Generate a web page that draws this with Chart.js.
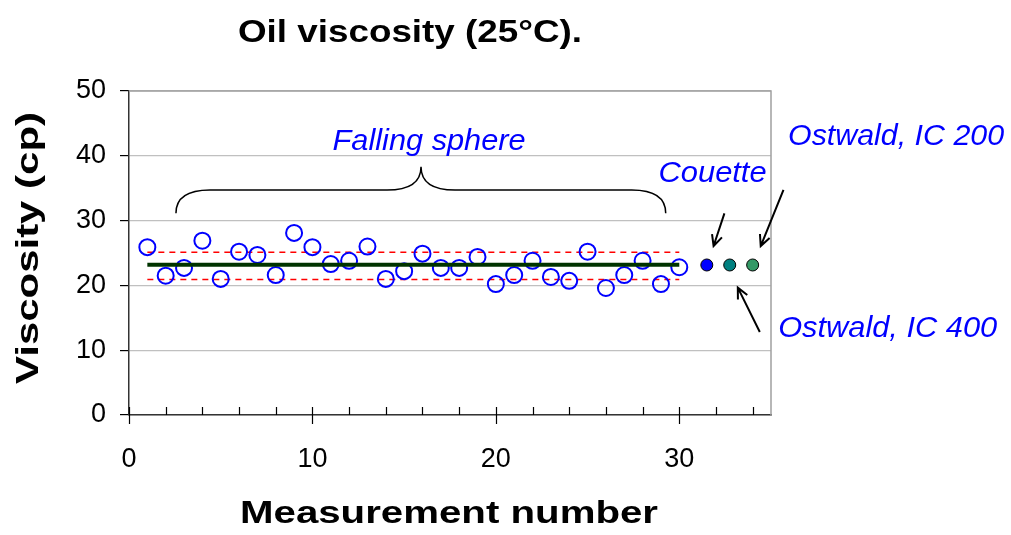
<!DOCTYPE html>
<html>
<head>
<meta charset="utf-8">
<title>Oil viscosity</title>
<script src="https://cdn.jsdelivr.net/npm/chart.js@4.4.1/dist/chart.umd.min.js"></script>
<style>
  body { margin: 0; background: #ffffff; }
  #chartBox { width: 1011px; height: 535px; }
</style>
</head>
<body>
<div id="chartBox"><canvas id="viscosityChart" width="1011" height="535"></canvas></div>
<script>
// ============================================
// Data
// ============================================
const measurementNo = [
  1, 2, 3, 4, 5, 6, 7, 8, 9, 10, 11, 12, 13, 14, 15,
  16, 17, 18, 19, 20, 21, 22, 23, 24, 25, 26, 27, 28, 29, 30,
];
const fallingSphere = [
  25.9, 21.5, 22.7, 26.9, 21.0, 25.2, 24.7, 21.6, 28.1, 25.9,
  23.3, 23.8, 26.0, 21.0, 22.2, 24.9, 22.7, 22.7, 24.4, 20.2,
  21.6, 23.8, 21.3, 20.7, 25.2, 19.6, 21.6, 23.8, 20.2, 22.8,
];
const meanViscosity = 23.2;
const bandUpper = 25.1;
const bandLower = 20.9;

const otherMethods = ["Couette", "Ostwald, IC 400", "Ostwald, IC 200"];
const otherX = [31.5, 32.75, 34];
const otherViscosity = [23.15, 23.15, 23.15];

const xMajorTicks = [0, 10, 20, 30];
const xMinorTicks = [2, 4, 6, 8, 12, 14, 16, 18, 22, 24, 26, 28, 32, 34];
const yTicks = [0, 10, 20, 30, 40, 50];

// ============================================
// Layout / style (pixels, data units for annotations)
// ============================================
const FONT = "'Liberation Sans', Arial, Helvetica, sans-serif";
const BLUE = "#0000ff";
const otherColors = ["#0000ff", "#008080", "#339966"];

const labels = [
  { text: "Falling sphere", x: 16.36, y: 40.9, align: "center", width: 193 },
  { text: "Couette", x: 28.87, y: 35.96, align: "left", width: 108 },
  { text: "Ostwald, IC 200", x: 35.93, y: 41.67, align: "left", width: 216 },
  { text: "Ostwald, IC 400", x: 35.39, y: 12.04, align: "left", width: 219 },
];
const arrows = [
  { from: [32.46, 31.11], to: [31.87, 26.08] },
  { from: [35.68, 34.75], to: [34.44, 26.08] },
  { from: [34.39, 12.81], to: [33.19, 19.66] },
];
const brace = { left: 2.56, right: 29.26, tip: 15.92, yEnd: 31.13, yMid: 34.72, yTip: 38.32 };

// text scaled horizontally to the width it has in the figure
function drawText(ctx, text, x, y, font, color, width, align) {
  ctx.save();
  ctx.font = font;
  ctx.fillStyle = color;
  ctx.textBaseline = "alphabetic";
  ctx.textAlign = "left";
  const natural = ctx.measureText(text).width;
  const sx = width ? width / natural : 1;
  const left = align === "center" ? x - (natural * sx) / 2 : x;
  ctx.translate(left, y);
  ctx.scale(sx, 1);
  ctx.fillText(text, 0, 0);
  ctx.restore();
}

function drawArrow(ctx, x1, y1, x2, y2) {
  const ang = Math.atan2(y2 - y1, x2 - x1);
  const head = 12;
  ctx.beginPath();
  ctx.moveTo(x1, y1);
  ctx.lineTo(x2, y2);
  ctx.moveTo(x2 - head * Math.cos(ang - 0.45), y2 - head * Math.sin(ang - 0.45));
  ctx.lineTo(x2, y2);
  ctx.lineTo(x2 - head * Math.cos(ang + 0.45), y2 - head * Math.sin(ang + 0.45));
  ctx.stroke();
}

const decorations = {
  id: "decorations",
  afterDatasetsDraw(chart) {
    const { ctx, chartArea } = chart;
    const xs = chart.scales.x;
    const ys = chart.scales.y;

    // plot frame: top and right in grey
    ctx.save();
    ctx.strokeStyle = "#a0a0a0";
    ctx.lineWidth = 1.5;
    ctx.beginPath();
    ctx.moveTo(chartArea.left, chartArea.top);
    ctx.lineTo(chartArea.right, chartArea.top);
    ctx.lineTo(chartArea.right, chartArea.bottom);
    ctx.stroke();

    // x axis ticks: majors cross the axis, minors point inside
    ctx.strokeStyle = "#000000";
    ctx.lineWidth = 1.2;
    ctx.beginPath();
    xMajorTicks.forEach((v) => {
      const px = Math.round(xs.getPixelForValue(v)) + 0.5;
      ctx.moveTo(px, chartArea.bottom - 8);
      ctx.lineTo(px, chartArea.bottom + 9);
    });
    xMinorTicks.forEach((v) => {
      const px = Math.round(xs.getPixelForValue(v)) + 0.5;
      ctx.moveTo(px, chartArea.bottom - 8);
      ctx.lineTo(px, chartArea.bottom);
    });
    ctx.stroke();

    // curly brace over the falling sphere points
    const L = xs.getPixelForValue(brace.left);
    const R = xs.getPixelForValue(brace.right);
    const C = xs.getPixelForValue(brace.tip);
    const yEnd = ys.getPixelForValue(brace.yEnd);
    const yMid = ys.getPixelForValue(brace.yMid);
    const yTip = ys.getPixelForValue(brace.yTip);
    ctx.lineWidth = 1.5;
    ctx.beginPath();
    ctx.moveTo(L, yEnd);
    ctx.quadraticCurveTo(L, yMid, L + 34, yMid);
    ctx.lineTo(C - 34, yMid);
    ctx.quadraticCurveTo(C, yMid, C, yTip);
    ctx.quadraticCurveTo(C, yMid, C + 34, yMid);
    ctx.lineTo(R - 34, yMid);
    ctx.quadraticCurveTo(R, yMid, R, yEnd);
    ctx.stroke();

    // arrows to the other methods
    ctx.lineWidth = 2;
    arrows.forEach((a) => {
      drawArrow(
        ctx,
        xs.getPixelForValue(a.from[0]),
        ys.getPixelForValue(a.from[1]),
        xs.getPixelForValue(a.to[0]),
        ys.getPixelForValue(a.to[1]),
      );
    });
    ctx.restore();

    labels.forEach((l) => {
      drawText(
        ctx,
        l.text,
        xs.getPixelForValue(l.x),
        ys.getPixelForValue(l.y),
        `italic 30px ${FONT}`,
        BLUE,
        l.width,
        l.align,
      );
    });

    // titles
    drawText(ctx, "Oil viscosity (25°C).", 238, 42, `bold 31px ${FONT}`, "#000", 344, "left");
    drawText(ctx, "Measurement number", 240, 523, `bold 31px ${FONT}`, "#000", 418, "left");
    ctx.save();
    ctx.translate(38, 384);
    ctx.rotate(-Math.PI / 2);
    drawText(ctx, "Viscosity (cp)", 0, 0, `bold 32px ${FONT}`, "#000", 272, "left");
    ctx.restore();
  },
};

const ctx = document.getElementById("viscosityChart").getContext("2d");
new Chart(ctx, {
  type: "scatter",
  data: {
    datasets: [
      {
        label: "Falling sphere",
        data: measurementNo.map((n, i) => ({ x: n, y: fallingSphere[i] })),
        pointStyle: "circle",
        pointRadius: 8,
        pointBorderWidth: 2,
        borderColor: BLUE,
        backgroundColor: "rgba(0,0,0,0)",
        order: 2,
      },
      {
        type: "line",
        label: "Mean",
        data: [
          { x: measurementNo[0], y: meanViscosity },
          { x: measurementNo[measurementNo.length - 1], y: meanViscosity },
        ],
        borderColor: "#003300",
        borderWidth: 4,
        pointRadius: 0,
        order: 1,
      },
      {
        type: "line",
        label: "Upper",
        data: [
          { x: measurementNo[0], y: bandUpper },
          { x: measurementNo[measurementNo.length - 1], y: bandUpper },
        ],
        borderColor: "#ff0000",
        borderWidth: 1.5,
        borderDash: [6, 5],
        pointRadius: 0,
        order: 3,
      },
      {
        type: "line",
        label: "Lower",
        data: [
          { x: measurementNo[0], y: bandLower },
          { x: measurementNo[measurementNo.length - 1], y: bandLower },
        ],
        borderColor: "#ff0000",
        borderWidth: 1.5,
        borderDash: [6, 5],
        pointRadius: 0,
        order: 3,
      },
      {
        label: "Other methods",
        data: otherX.map((x, i) => ({ x: x, y: otherViscosity[i], name: otherMethods[i] })),
        pointRadius: 6,
        pointBorderWidth: 1,
        borderColor: "#000000",
        backgroundColor: otherColors,
        order: 0,
      },
    ],
  },
  options: {
    responsive: false,
    animation: false,
    layout: { padding: { left: 0, top: 91, right: 240, bottom: 0 } },
    plugins: {
      legend: { display: false },
      tooltip: { enabled: false },
      title: { display: false },
    },
    scales: {
      x: {
        type: "linear",
        min: 0,
        max: 35,
        afterBuildTicks: (scale) => {
          scale.ticks = xMajorTicks.map((v) => ({ value: v }));
        },
        afterFit: (scale) => {
          scale.height = 120;
        },
        grid: { display: true, drawOnChartArea: false, drawTicks: false },
        border: { display: true, color: "#333333", width: 1.5 },
        ticks: {
          padding: 28,
          color: "#000000",
          font: { family: FONT, size: 27 },
        },
      },
      y: {
        min: 0,
        max: 50,
        afterBuildTicks: (scale) => {
          scale.ticks = yTicks.map((v) => ({ value: v }));
        },
        afterFit: (scale) => {
          scale.width = 129;
        },
        grid: {
          color: "#c0c0c0",
          lineWidth: 1.2,
          tickColor: "#000000",
          tickLength: 9,
        },
        border: { display: true, color: "#333333", width: 1.5 },
        ticks: {
          padding: 14,
          color: "#000000",
          font: { family: FONT, size: 27 },
        },
      },
    },
  },
  plugins: [decorations],
});
</script>
</body>
</html>
